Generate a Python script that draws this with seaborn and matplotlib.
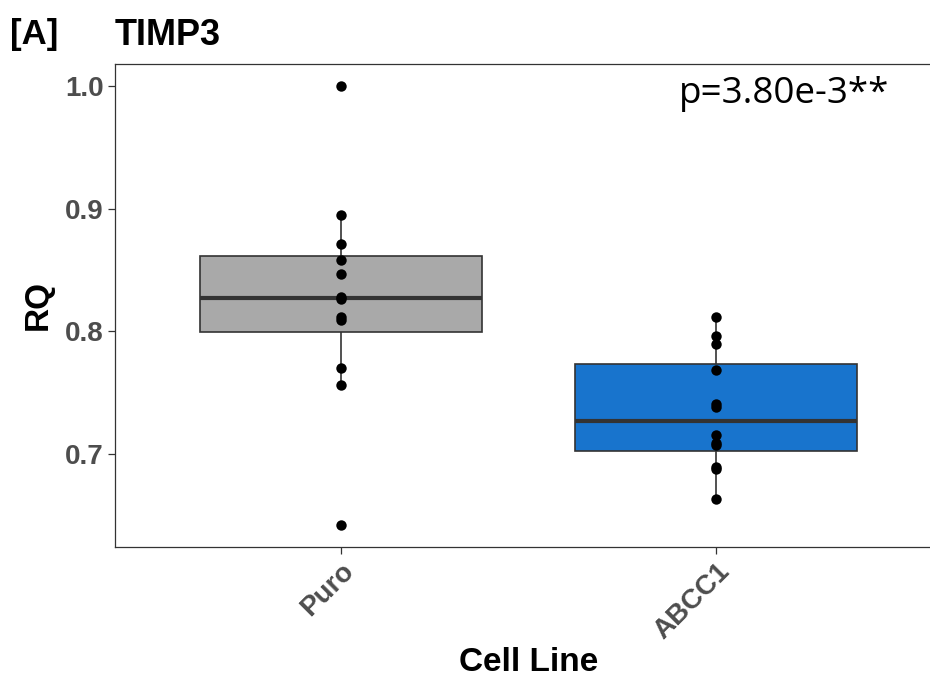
import pandas as pd
import matplotlib
matplotlib.use("Agg")
import matplotlib.pyplot as plt
import seaborn as sns

# values
cell_lines = ["Puro", "ABCC1"]
puro_rq = [1.000, 0.895, 0.871, 0.858, 0.847, 0.828, 0.826, 0.812, 0.809, 0.770, 0.756, 0.642]
abcc1_rq = [0.812, 0.796, 0.790, 0.768, 0.741, 0.738, 0.715, 0.709, 0.707, 0.689, 0.688, 0.663]
box_colors = ["#A9A9A9", "#1874CD"]
y_ticks = [0.7, 0.8, 0.9, 1.0]
p_label = "p=3.80e-3**"

df = pd.DataFrame({
    "Cell Line": ["Puro"] * len(puro_rq) + ["ABCC1"] * len(abcc1_rq),
    "RQ": puro_rq + abcc1_rq,
})

sns.set_theme(style="white")
plt.rcParams["font.family"] = ["Liberation Sans", "DejaVu Sans"]
plt.rcParams["text.color"] = "black"

fig = plt.figure(figsize=(9.3, 6.79), dpi=100)
ax = fig.add_axes([115 / 930, 1 - 547 / 679, 827 / 930, 483 / 679])

sns.boxplot(data=df, x="Cell Line", y="RQ", order=cell_lines, hue="Cell Line",
            palette=box_colors, legend=False, width=0.75, showfliers=False,
            linecolor="#333333", linewidth=1.2, saturation=1, showcaps=False,
            medianprops={"linewidth": 3.0, "color": "#333333"}, ax=ax)
sns.stripplot(data=df, x="Cell Line", y="RQ", order=cell_lines, jitter=False,
              color="black", size=7.5, ax=ax, zorder=5)

ax.set_xlim(-0.6, 1.6)
ax.set_ylim(0.624, 1.018)
ax.set_yticks(y_ticks)
ax.set_yticklabels([f"{t:.1f}" for t in y_ticks])

for s in ax.spines.values():
    s.set_color("#333333")
    s.set_linewidth(0.9)

ax.tick_params(axis="both", which="major", direction="out", length=5, width=0.9,
               color="#333333", labelcolor="#4D4D4D", labelsize=20, pad=3, bottom=True, left=True)
for lab in ax.get_yticklabels():
    lab.set_fontweight("bold")
plt.setp(ax.get_xticklabels(), rotation=45, ha="right", va="top", rotation_mode="anchor",
         fontweight="bold")

ax.set_ylabel("RQ", fontsize=24, fontweight="bold", color="black", labelpad=8)
ax.set_xlabel("Cell Line", fontsize=24, fontweight="bold", color="black", labelpad=2)

ax.text(1.18, 0.986, p_label, ha="center", va="baseline", fontsize=26.5,
        family=["Open Sans", "DejaVu Sans"], color="black")

fig.text(10 / 930, 1 - 44 / 679, "[A]", fontsize=25, fontweight="bold", va="baseline", color="black")
fig.text(115 / 930, 1 - 45 / 679, "TIMP3", fontsize=26, fontweight="bold", va="baseline", color="black")

fig.savefig("out.png", dpi=100)
